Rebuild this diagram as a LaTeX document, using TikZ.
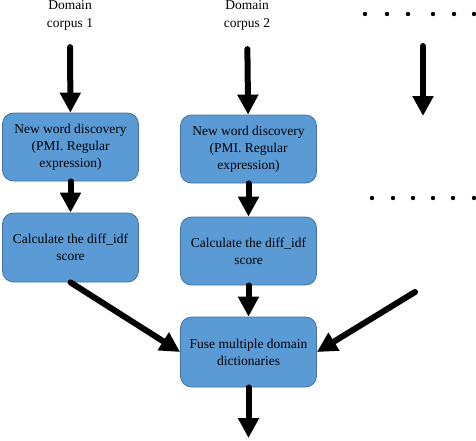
\documentclass[tikz,border=0pt]{standalone}
\usepackage{fontspec}
\setmainfont{Liberation Serif}
\usepackage{xcolor}
\usepackage{tikz}
\usetikzlibrary{arrows.meta}
\usetikzlibrary{positioning}
\definecolor{boxfill}{HTML}{5B9BD5}
\definecolor{boxline}{HTML}{41719C}
\tikzset{>={Triangle[width=20pt,length=20pt]}}
\tikzset{
    stagebox/.style = {draw = boxline, line width = 0.8pt, fill = boxfill, rounded corners = 11pt,
        minimum width = 136pt, minimum height = 68pt, align = center, inner sep = 2pt,
        font = \fontsize{13.5}{17}\selectfont},
    corpus/.style = {align = center, inner sep = 0pt, font = \fontsize{13.5}{18}\selectfont},
    flow/.style = {->, line width = 6pt, line cap = round}
}

\begin{document}
\begin{tikzpicture}[x=1pt,y=-1pt]
                \useasboundingbox (0,0) rectangle (476,440);
                \node[corpus] (c1) at (70,15) {Domain\\corpus 1};
                \node[corpus] (c2) at (247,15) {Domain\\corpus 2};
                \node[stagebox] (nwd1) at (70.5,147) {New word discovery\\(PMI. Regular\\expression)};
                \node[stagebox, minimum height = 69pt] (idf1) at (70.5,247.5) {Calculate the diff\_idf\\score};
                \node[stagebox] (nwd2) at (248.5,149) {New word discovery\\(PMI. Regular\\expression)};
                \node[stagebox] (idf2) at (248.5,251) {Calculate the diff\_idf\\score};
                \node[stagebox, minimum height = 70pt] (fuse) at (248.5,352) {Fuse multiple domain\\dictionaries};
                \coordinate (c3top) at (423,46);
                \coordinate (c3bot) at (423,116);
                \coordinate (c3in) at (415,292);
                \coordinate (out) at (248.5,438);
                % dots for further corpora
                \foreach \x in {365,387,408,433,454,474}
                    \fill (\x,14) circle (2.2pt);
                \foreach \x in {372,393,413,433,453,474}
                    \fill (\x,198) circle (2.2pt);
                \path[flow]
                (c1) edge[shorten < = 17pt] (nwd1)
                (c2) edge[shorten < = 19pt] (nwd2)
                (c3top) edge (c3bot)
                (nwd1.south) edge (idf1.north)
                (nwd2.south) edge (idf2.north)
                (idf1.south) edge (fuse.west)
                (idf2.south) edge (fuse.north)
                (c3in) edge (fuse.east)
                (fuse.south) edge (out);
            \end{tikzpicture}
\end{document}
